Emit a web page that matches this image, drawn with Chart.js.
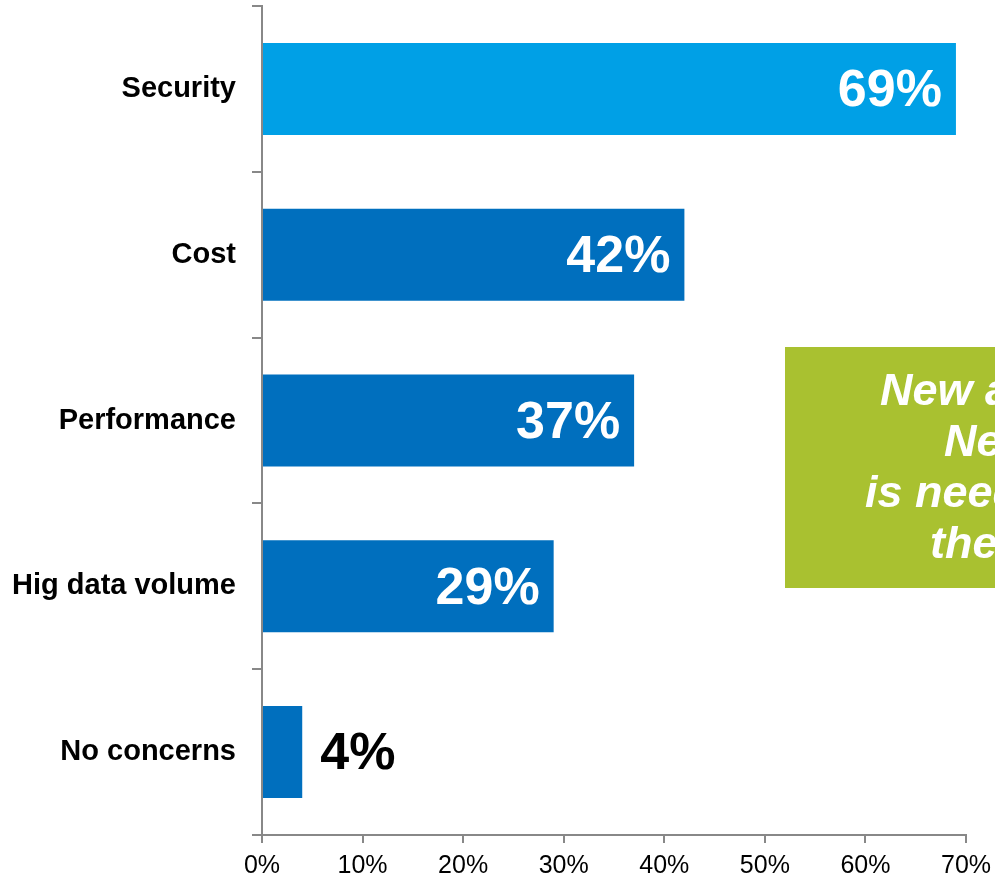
<!DOCTYPE html>
<html>
<head>
<meta charset="utf-8">
<script src="https://cdn.jsdelivr.net/npm/chart.js@4/dist/chart.umd.min.js"></script>
<style>
  html, body { margin: 0; padding: 0; background: #fff; overflow: hidden; }
  #wrap { width: 995px; height: 881px; }
</style>
</head>
<body>
<div id="wrap"><canvas id="concerns" width="995" height="881"></canvas></div>
<script>
/* ------------------------- */
/* DATA                      */
/* ------------------------- */
const categories = ["Security", "Cost", "Performance", "Hig data volume", "No concerns"];
const shares = [69, 42, 37, 29, 4];
const barColors = ["#00A0E6", "#006FBE", "#006FBE", "#006FBE", "#006FBE"];
const xTicks = [0, 10, 20, 30, 40, 50, 60, 70];
const calloutLines = ["New approach", "Network", "is needed for", "these concerns"];

const FONT = "'Liberation Sans', Arial, sans-serif";

/* ------------------------- */
/* VALUE LABELS ON BARS      */
/* ------------------------- */
const valueLabels = {
  id: "valueLabels",
  afterDatasetsDraw(chart) {
    const ctx = chart.ctx;
    const meta = chart.getDatasetMeta(0);
    ctx.save();
    ctx.font = "bold 52px " + FONT;
    ctx.textBaseline = "middle";
    meta.data.forEach((bar, i) => {
      const txt = shares[i] + "%";
      const w = ctx.measureText(txt).width;
      if (w + 30 < bar.x - bar.base) {
        ctx.fillStyle = "#fff";
        ctx.textAlign = "right";
        ctx.fillText(txt, bar.x - 14, bar.y + 3);
      } else {
        ctx.fillStyle = "#000";
        ctx.textAlign = "left";
        ctx.fillText(txt, bar.x + 18, bar.y + 3);
      }
    });
    ctx.restore();
  }
};

/* ------------------------- */
/* GREEN CALLOUT BOX         */
/* ------------------------- */
const callout = {
  id: "callout",
  afterDraw(chart) {
    const ctx = chart.ctx;
    ctx.save();
    ctx.fillStyle = "#A9C130";
    ctx.fillRect(785, 347, 400, 241);
    ctx.fillStyle = "#fff";
    ctx.font = "italic bold 45px " + FONT;
    ctx.textAlign = "left";
    ctx.textBaseline = "alphabetic";
    const starts = [880, 944, 865, 930];
    calloutLines.forEach((line, i) => {
      ctx.fillText(line, starts[i], 405 + i * 51);
    });
    ctx.restore();
  }
};

/* ------------------------- */
/* CHART                     */
/* ------------------------- */
new Chart(document.getElementById("concerns"), {
  type: "bar",
  data: {
    labels: categories,
    datasets: [{
      data: shares,
      backgroundColor: barColors,
      borderWidth: 0,
      categoryPercentage: 1,
      barPercentage: 0.555
    }]
  },
  options: {
    indexAxis: "y",
    responsive: false,
    animation: false,
    layout: { padding: { top: 6, right: 29, left: 0, bottom: 0 } },
    plugins: { legend: { display: false }, tooltip: { enabled: false } },
    scales: {
      x: {
        min: 0,
        max: 70,
        afterBuildTicks(scale) { scale.ticks = xTicks.map(v => ({ value: v })); },
        afterFit(scale) {
          scale.height = 46;
          scale.paddingLeft = 0;
          scale.paddingRight = 0;
        },
        ticks: {
          callback: v => v + "%",
          color: "#000",
          font: { family: FONT, size: 25 },
          padding: 8,
          maxRotation: 0
        },
        grid: { drawOnChartArea: false, tickLength: 8, color: "#888", lineWidth: 2 },
        border: { color: "#888", width: 2 }
      },
      y: {
        afterFit(scale) {
          scale.width = 262;
          scale.paddingTop = 0;
          scale.paddingBottom = 0;
        },
        ticks: {
          color: "#000",
          font: { family: FONT, size: 29, weight: "bold" },
          padding: 16
        },
        grid: { offset: true, drawOnChartArea: false, tickLength: 10, color: "#888", lineWidth: 2 },
        border: { color: "#888", width: 2 }
      }
    }
  },
  plugins: [valueLabels, callout]
});
</script>
</body>
</html>
